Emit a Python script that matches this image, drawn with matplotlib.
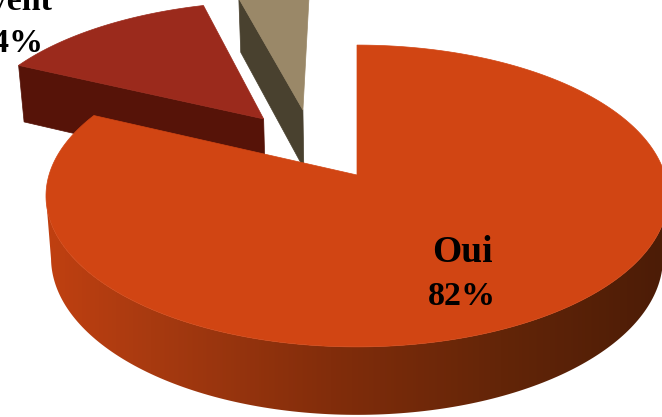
import numpy as np
import matplotlib
matplotlib.use('Agg')
import matplotlib.pyplot as plt
from matplotlib.patches import Polygon

# Donnees
categories = ["Oui", "Souvent", "Non"]
valeurs = [82, 13.6, 4.4]
etiquettes = ["82%", "14%", "4%"]

# Apparence des parts
couleur_dessus = ['#d14513', '#9b2a1c', '#9a8868']
couleur_coupe = ['#a83a10', '#561308', '#49412f']
ecart_u = [0, -0.32, -0.187]
ecart_v = [0, 0.40, 0.468]

# Perspective (pixels de l'image)
cx, k = 357, 0.139
haut = dict(cy=175, R=308, S=148)
bas = dict(cy=236, R=303, S=154)

# Degrade du cote de la grande part, selon x
cote_x = [47, 150, 330, 500, 662]
cote_rgb = np.array([[0xc0, 0x40, 0x10], [0xa8, 0x3a, 0x10], [0x82, 0x2d, 0x0b],
                     [0x63, 0x25, 0x08], [0x4c, 0x1c, 0x06]]) / 255


def projette(u, v, plan):
    w = 1 + k * v
    return np.column_stack([cx + plan['R'] * u / w, plan['cy'] - plan['S'] * v / w])


def arc(a1, a2, du, dv, n=300):
    a = np.radians(np.linspace(a1, a2, n))
    return np.sin(a) + du, np.cos(a) + dv


fig = plt.figure(figsize=(6.62, 4.17), dpi=100)
ax = fig.add_axes([0, 0, 1, 1])
ax.axis('off')

debuts = np.concatenate([[0], np.cumsum(valeurs)[:-1]]) * 3.6
fins = np.cumsum(valeurs) * 3.6

# du fond vers l'avant
z = 1
for i in [2, 1, 0]:
    du, dv = ecart_u[i], ecart_v[i]
    u, v = arc(debuts[i], fins[i], du, dv)
    dessus = projette(u, v, haut)
    dessous = projette(u, v, bas)
    centre_h = projette(np.array([du]), np.array([dv]), haut)
    centre_b = projette(np.array([du]), np.array([dv]), bas)

    # face coupee visible
    face = np.vstack([centre_h, dessus[[0]], dessous[[0]], centre_b])
    ax.add_patch(Polygon(face, fc=couleur_coupe[i], ec=couleur_coupe[i], lw=0.5, zorder=z))
    z += 1

    # bord exterieur, seulement visible sur la grande part
    if i == 0:
        d, f = np.argmax(dessus[:, 0]), np.argmin(dessus[:, 0]) + 1
        bord = Polygon(np.vstack([dessus[d:f], dessous[d:f][::-1]]), fc='none', ec='none')
        ax.add_patch(bord)
        xs = np.arange(662)
        degrade = np.stack([np.interp(xs, cote_x, cote_rgb[:, n]) for n in range(3)], axis=1)
        im = ax.imshow(degrade[np.newaxis, :, :], extent=[0, 662, 417, 0], aspect='auto', zorder=z)
        im.set_clip_path(bord)
        z += 1

    # dessus
    ax.add_patch(Polygon(np.vstack([centre_h, dessus]), fc=couleur_dessus[i],
                         ec=couleur_dessus[i], lw=0.5, zorder=z))
    z += 1

ax.set_xlim(0, 662)
ax.set_ylim(417, 0)

police = dict(family='Liberation Serif', fontweight='bold', color='black', zorder=20)
ax.text(462, 262, categories[0], ha='center', va='baseline', fontsize=27, **police)
ax.text(462, 305, etiquettes[0], ha='center', va='baseline', fontsize=24.5, **police)
ax.text(52, 10, categories[1], ha='right', va='baseline', fontsize=24.5, **police)
ax.text(43, 52, etiquettes[1], ha='right', va='baseline', fontsize=24.5, **police)

fig.savefig('out.png', dpi=100)
